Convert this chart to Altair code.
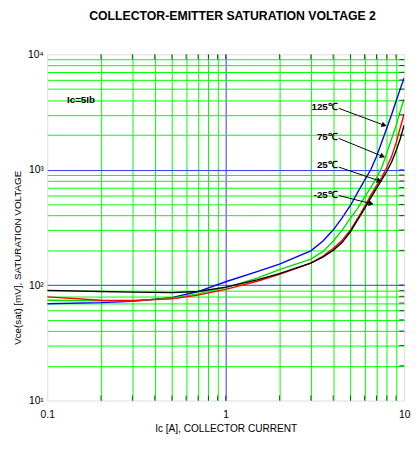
import altair as alt
import pandas as pd

# ---- data ----
ic = [0.1, 0.2, 0.3, 0.5, 0.7, 1, 1.5, 2, 3, 3.5, 4, 4.5, 5, 5.5, 6, 6.5, 7, 7.5, 8, 8.5, 9, 9.5, 10]
vce_125 = [69, 70.5, 72.5, 78, 88, 107, 131, 152, 198, 240, 300, 385, 490, 640, 810, 1000, 1300, 1750, 2300, 3000, 3900, 5000, 6250]
vce_75 = [74, 73, 73, 77, 84, 95, 115, 136, 168, 195, 240, 300, 380, 465, 580, 700, 850, 1050, 1400, 1850, 2400, 3200, 4100]
vce_25 = [79, 74, 73.5, 76, 82, 92, 108, 124, 155, 178, 208, 245, 300, 380, 480, 600, 730, 860, 1050, 1300, 1700, 2300, 3050]
vce_m25 = [90, 88, 87, 86, 88, 96, 111, 126, 155, 175, 200, 235, 290, 370, 460, 570, 690, 820, 970, 1160, 1450, 1850, 2430]

temps = ["125℃", "75℃", "25℃", "-25℃"]
colors = ["#0000ff", "#00e000", "#ff0000", "#000000"]

# arrow annotations (data coordinates)
lab_x = [4.25, 4.25, 4.25, 4.25]
lab_y = [3525, 1905, 1089, 598]
arr_x1 = [4.3, 4.3, 4.3, 4.3]
arr_y1 = [3410, 1870, 1055, 598]
arr_x2 = [7.73, 7.57, 7.26, 6.53]
arr_y2 = [2430, 1306, 801, 508]
arr_ang = [20, 22, 18.6, 14]

x_grid = [0.1, 0.2, 0.3, 0.4, 0.5, 0.6, 0.7, 0.8, 0.9, 1, 2, 3, 4, 5, 6, 7, 8, 9, 10]
y_grid = [10, 20, 30, 40, 50, 60, 70, 80, 90, 100, 200, 300, 400, 500, 600, 700, 800, 900,
          1000, 2000, 3000, 4000, 5000, 6000, 7000, 8000, 9000, 10000]

FONT = "Liberation Sans, Arial"

rows = []
for t, vals in zip(temps, [vce_125, vce_75, vce_25, vce_m25]):
    for x, v in zip(ic, vals):
        rows.append({"ic": x, "vce": v, "temp": t})
df = pd.DataFrame(rows)

ann = pd.DataFrame({"temp": temps, "lx": lab_x, "ly": lab_y, "x1": arr_x1, "y1": arr_y1,
                    "x2": arr_x2, "y2": arr_y2, "ang": arr_ang})

W, H = 364, 353
xs = alt.Scale(type="log", domain=[0.1, 10])
ys = alt.Scale(type="log", domain=[10, 10000])

x_axis = alt.Axis(
    values=x_grid, grid=True, ticks=False, domain=False,
    gridColor=alt.condition("datum.value == 1", alt.value("#3333ff"), alt.value("#00ff00")),
    gridOpacity=alt.condition("datum.value == 0.1 || datum.value == 10", alt.value(0), alt.value(1)),
    labelExpr="datum.value == 0.1 ? '0.1' : datum.value == 1 ? '1' : datum.value == 10 ? '10' : ''",
    labelOverlap=False, labelFlush=False, labelPadding=9, labelFont=FONT, labelFontSize=10.5,
    labelColor="#000000",
    title="Ic [A], COLLECTOR CURRENT", titleFont=FONT, titleFontSize=10.3, titleFontWeight="normal",
    titleY=29, titleBaseline="middle", titleColor="#000000",
)
y_axis = alt.Axis(
    values=y_grid, grid=True, ticks=False, domain=False,
    gridColor=alt.condition("datum.value == 100 || datum.value == 1000", alt.value("#3333ff"), alt.value("#00ff00")),
    gridOpacity=alt.condition("datum.value == 10 || datum.value == 10000", alt.value(0), alt.value(1)),
    labelExpr="datum.value == 10 ? '10¹' : datum.value == 100 ? '10²' : datum.value == 1000 ? '10³' : datum.value == 10000 ? '10⁴' : ''",
    labelOverlap=False, labelFlush=False, labelPadding=4, labelFont=FONT, labelFontSize=10.5,
    labelColor="#000000",
    title="Vce(sat) [mV], SATURATION VOLTAGE", titleFont=FONT, titleFontSize=10, titleFontWeight="normal",
    titleX=-30, titleY=207, titleAngle=-90, titleAlign="center", titleBaseline="middle", titleColor="#000000",
)

lines = alt.Chart(df).mark_line(strokeWidth=1.4, clip=True).encode(
    x=alt.X("ic:Q", scale=xs, axis=x_axis),
    y=alt.Y("vce:Q", scale=ys, axis=y_axis),
    color=alt.Color("temp:N", scale=alt.Scale(domain=temps, range=colors), legend=None),
    order="ic:Q",
)

xt = pd.DataFrame({"v": x_grid[1:-1]})
yt = pd.DataFrame({"v": y_grid[1:-1]})
tick_bot = alt.Chart(xt).mark_tick(orient="vertical", size=5, thickness=1, color="black").encode(
    x=alt.X("v:Q", scale=xs), y=alt.value(H - 2.5))
tick_top = alt.Chart(xt).mark_tick(orient="vertical", size=5, thickness=1, color="black").encode(
    x=alt.X("v:Q", scale=xs), y=alt.value(2.5))
tick_right = alt.Chart(yt).mark_tick(orient="horizontal", size=5, thickness=1, color="black").encode(
    y=alt.Y("v:Q", scale=ys), x=alt.value(W - 2.5))

labels = alt.Chart(ann).mark_text(align="right", baseline="middle", font=FONT, fontSize=10,
                                  fontWeight="bold", color="black").encode(
    x=alt.X("lx:Q", scale=xs), y=alt.Y("ly:Q", scale=ys), text="temp:N")
arrows = alt.Chart(ann).mark_rule(color="black", strokeWidth=1).encode(
    x=alt.X("x1:Q", scale=xs), y=alt.Y("y1:Q", scale=ys),
    x2="x2:Q", y2="y2:Q")
heads = alt.Chart(ann).mark_point(shape="triangle-right", filled=True, color="black", size=35, opacity=1).encode(
    x=alt.X("x2:Q", scale=xs), y=alt.Y("y2:Q", scale=ys), angle=alt.Angle("ang:Q", scale=None))

cond_df = pd.DataFrame({"x": [0.129], "y": [4010], "t": ["Ic=5Ib"]})
cond = alt.Chart(cond_df).mark_text(align="left", baseline="middle", font=FONT, fontSize=10,
                                     fontWeight="bold", color="black").encode(
    x=alt.X("x:Q", scale=xs), y=alt.Y("y:Q", scale=ys), text="t:N")

chart = alt.layer(lines, tick_bot, tick_top, tick_right, arrows, heads, labels, cond).properties(
    width=W, height=H,
    title=alt.TitleParams("COLLECTOR-EMITTER SATURATION VOLTAGE 2", font=FONT, fontSize=12.5,
                          fontWeight="bold", color="#000000", offset=28, dx=7, anchor="middle"),
    autosize=alt.AutoSizeParams(type="none"),
    padding={"left": 40, "top": 43, "right": 7, "bottom": 36},
).configure_view(stroke="#000000", strokeWidth=1).configure(background="white")

chart.save("out.html", embed_options={"renderer": "svg", "actions": False})
